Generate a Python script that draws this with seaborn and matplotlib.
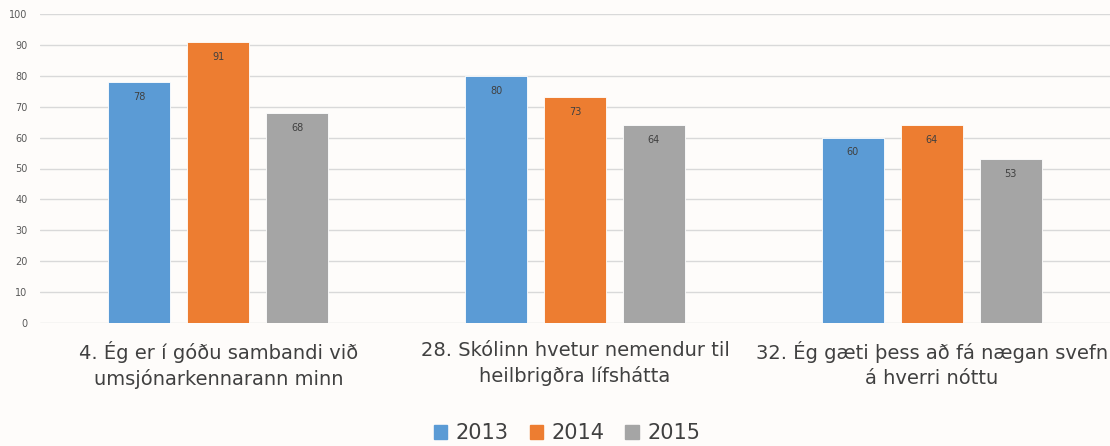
import pandas as pd
import matplotlib
matplotlib.use("Agg")
import matplotlib.pyplot as plt
import seaborn as sns

categories = [
    "4. Ég er í góðu sambandi við\numsjónarkennarann minn",
    "28. Skólinn hvetur nemendur til\nheilbrigðra lífshátta",
    "32. Ég gæti þess að fá nægan svefn\ná hverri nóttu",
]
years = ["2013", "2014", "2015"]
values_2013 = [78, 80, 60]
values_2014 = [91, 73, 64]
values_2015 = [68, 64, 53]
colors = ["#5B9BD5", "#ED7D31", "#A5A5A5"]

df = pd.DataFrame({
    "Spurning": categories * 3,
    "Ár": [y for y in years for _ in categories],
    "Gildi": values_2013 + values_2014 + values_2015,
})

sns.set_style("white")
plt.rcParams["font.family"] = ["DejaVu Sans"]
bg = "#FEFCFA"

fig = plt.figure(figsize=(11.1, 4.46), dpi=100, facecolor=bg)
ax = fig.add_axes([40 / 1110, 1 - 323 / 446, 1070 / 1110, 309 / 446])
ax.set_facecolor(bg)

sns.barplot(data=df, x="Spurning", y="Gildi", hue="Ár", palette=colors,
            width=0.664, gap=0.215, saturation=1, ax=ax,
            edgecolor="white", linewidth=0.6, legend=False)

for cont in ax.containers:
    for bar in cont:
        h = bar.get_height()
        ax.text(bar.get_x() + bar.get_width() / 2, h - 4.8, f"{h:.0f}",
                ha="center", va="center", fontsize=7, color="#404040")

ax.set_ylim(0, 100)
ax.set_xlim(-0.5, 2.5)
ax.set_yticks(range(0, 101, 10))
ax.yaxis.grid(True, color="#D9D9D9", linewidth=1)
ax.set_axisbelow(True)
for s in ax.spines.values():
    s.set_visible(False)
ax.tick_params(axis="y", length=0, labelsize=7, labelcolor="#595959", pad=9)
ax.tick_params(axis="x", length=0, labelsize=14, labelcolor="#404040", pad=13)
for lbl in ax.get_xticklabels():
    lbl.set_linespacing(1.4)
ax.set_xlabel("")
ax.set_ylabel("")

handles = [plt.Rectangle((0, 0), 1, 1, color=c) for c in colors]
fig.legend(handles, years, loc="center", bbox_to_anchor=(567 / 1110, 1 - 433 / 446),
           ncol=3, frameon=False, fontsize=15, handlelength=0.65, handleheight=0.65,
           handletextpad=0.4, columnspacing=1.0, labelcolor="#404040")

fig.savefig("out.png", dpi=100, facecolor=bg)
